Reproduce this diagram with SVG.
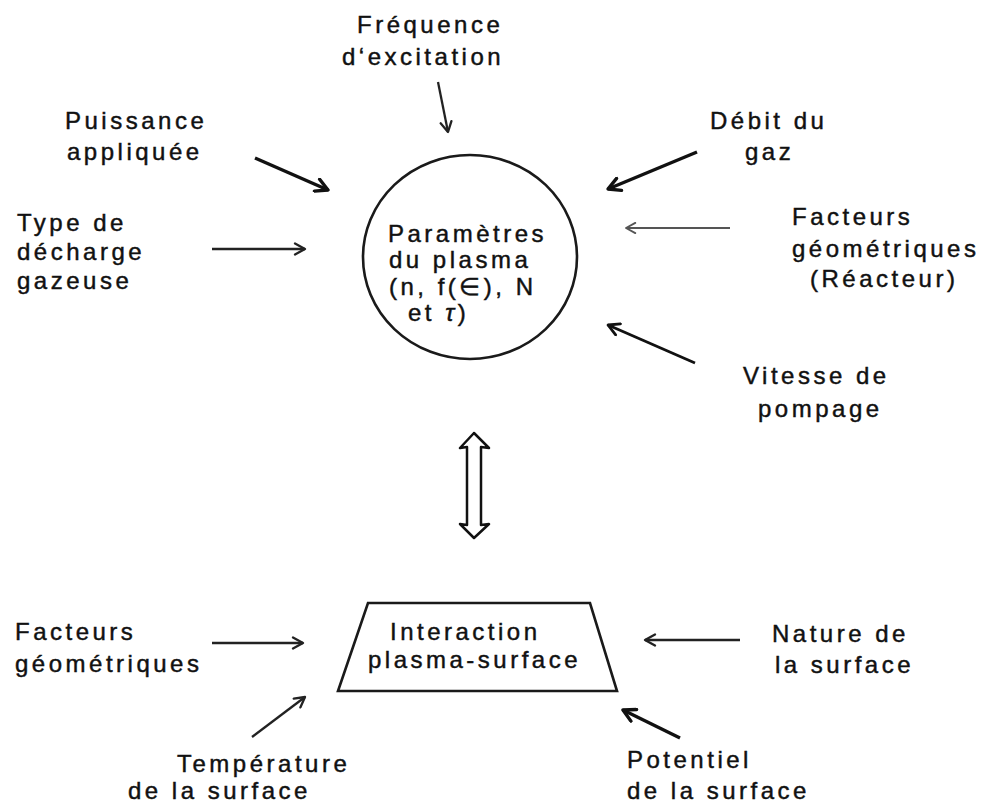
<svg xmlns="http://www.w3.org/2000/svg" width="990" height="803" viewBox="0 0 990 803">
<defs>
<style>
text{font-family:"Liberation Sans",Arial,sans-serif;font-size:24px;letter-spacing:3.5px;fill:#111;stroke:#111;stroke-width:0.45px}
.shape{fill:none;stroke:#1a1a1a;stroke-width:2.6}
.thick{stroke:#111;stroke-width:3.4;fill:none}
.mid{stroke:#111;stroke-width:2.8;fill:none}
.thin{stroke:#222;stroke-width:2.3;fill:none}
.gray{stroke:#555;stroke-width:2;fill:none}
</style>
<marker id="hk" viewBox="0 0 16 16" refX="14" refY="8" markerWidth="16" markerHeight="16" markerUnits="userSpaceOnUse" orient="auto">
<path d="M2,1.5 L14,8 L2,14.5" fill="none" stroke="#111" stroke-width="3.4" stroke-linecap="round" stroke-linejoin="round"/>
</marker>
<marker id="hm" viewBox="0 0 15 15" refX="13" refY="7.5" markerWidth="15" markerHeight="15" markerUnits="userSpaceOnUse" orient="auto">
<path d="M2,1.5 L13,7.5 L2,13.5" fill="none" stroke="#111" stroke-width="2.8" stroke-linecap="round" stroke-linejoin="round"/>
</marker>
<marker id="hn" viewBox="0 0 14 14" refX="12" refY="7" markerWidth="14" markerHeight="14" markerUnits="userSpaceOnUse" orient="auto">
<path d="M2,1.5 L12,7 L2,12.5" fill="none" stroke="#222" stroke-width="2.3" stroke-linecap="round" stroke-linejoin="round"/>
</marker>
<marker id="hg" viewBox="0 0 14 14" refX="12" refY="7" markerWidth="13" markerHeight="13" markerUnits="userSpaceOnUse" orient="auto">
<path d="M2,1.5 L12,7 L2,12.5" fill="none" stroke="#555" stroke-width="2" stroke-linecap="round" stroke-linejoin="round"/>
</marker>
</defs>
<rect width="990" height="803" fill="#fff"/>

<g id="plasma">
<ellipse class="shape" cx="470" cy="257" rx="107" ry="102"/>
<text x="388" y="242">Paramètres</text>
<text x="389" y="268">du plasma</text>
<text x="389" y="295">(n, f(∈), N</text>
<text x="408" y="321">et <tspan font-style="italic">τ</tspan>)</text>
</g>

<g id="interaction">
<polygon class="shape" points="368,603 590,603 617,691 338,691"/>
<text x="390" y="640">Interaction</text>
<text x="368" y="668">plasma-surface</text>
</g>

<g id="frequence">
<text x="357" y="33">Fréquence</text>
<text x="342" y="65">d‘excitation</text>
</g>
<g id="puissance">
<text x="65" y="129">Puissance</text>
<text x="67" y="160">appliquée</text>
</g>
<g id="type">
<text x="17" y="231">Type de</text>
<text x="17" y="260">décharge</text>
<text x="17" y="289">gazeuse</text>
</g>
<g id="debit">
<text x="710" y="129">Débit du</text>
<text x="745" y="160">gaz</text>
</g>
<g id="facteurs-reacteur">
<text x="792" y="225">Facteurs</text>
<text x="792" y="257">géométriques</text>
<text x="810" y="287">(Réacteur)</text>
</g>
<g id="vitesse">
<text x="743" y="384">Vitesse de</text>
<text x="758" y="417">pompage</text>
</g>
<g id="facteurs-geo">
<text x="15" y="640">Facteurs</text>
<text x="15" y="672">géométriques</text>
</g>
<g id="temperature">
<text x="177" y="772">Température</text>
<text x="128" y="799">de la surface</text>
</g>
<g id="nature">
<text x="772" y="642">Nature de</text>
<text x="775" y="673">la surface</text>
</g>
<g id="potentiel">
<text x="627" y="768">Potentiel</text>
<text x="627" y="799">de la surface</text>
</g>

<g id="connectors">
<line class="thin" x1="438" y1="82" x2="448" y2="132" marker-end="url(#hn)"/>
<line class="thick" x1="255" y1="158" x2="328" y2="190" marker-end="url(#hk)"/>
<line class="thin" x1="212" y1="249" x2="305" y2="249" marker-end="url(#hn)"/>
<line class="thick" x1="697" y1="152" x2="608" y2="189" marker-end="url(#hk)"/>
<line class="gray" x1="730" y1="228" x2="626" y2="228" marker-end="url(#hg)"/>
<line class="mid" x1="695" y1="363" x2="608" y2="325" marker-end="url(#hm)"/>
<path d="M474,433 L460,448 L467,447 L467,525 L460,524 L474,538 L489,524 L481,525 L481,447 L489,448 Z" fill="#fff" stroke="#111" stroke-width="2.5" stroke-linejoin="round"/>
<line class="thin" x1="212" y1="643" x2="303" y2="643" marker-end="url(#hn)"/>
<line class="thin" x1="252" y1="737" x2="305" y2="697" marker-end="url(#hn)"/>
<line class="thin" x1="740" y1="640" x2="645" y2="640" marker-end="url(#hn)"/>
<line class="thick" x1="680" y1="738" x2="623" y2="710" marker-end="url(#hk)"/>
</g>
</svg>
